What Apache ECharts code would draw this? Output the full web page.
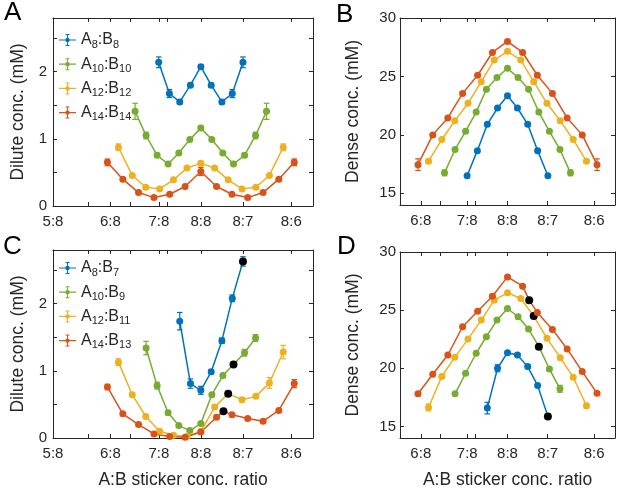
<!DOCTYPE html>
<html><head><meta charset="utf-8">
<script src="https://cdn.jsdelivr.net/npm/echarts@6/dist/echarts.min.js"></script>
<style>html,body{margin:0;padding:0;background:#fff}#c{width:617px;height:493px}</style>
</head><body><div id="c"></div>
<script>
// ---------- tick labels ----------
const xTickLabelsAC = ['5:8','6:8','7:8','8:8','8:7','8:6'];
const xTickLabelsBD = ['6:8','7:8','8:8','8:7','8:6'];
const xMinorTickRatios = [0.7, 0.8, 0.9];
const xLimitRatio = 0.7;
const yTicksDilute = [0, 0.5, 1, 1.5, 2, 2.5];
const yLabelsDilute = [0, 1, 2];
const yTicksDense = [15, 20, 25, 30];
const yLabelsDense = [15, 20, 25, 30];

// ---------- legend names ----------
const namesTop = ['A8:B8','A10:B10','A12:B12','A14:B14'];
const namesBottom = ['A8:B7','A10:B9','A12:B11','A14:B13'];

// ---------- x values: ln(A:B sticker conc. ratio) ----------
const xBlue   = [-0.134,-0.100,-0.067,-0.033,0,0.033,0.067,0.100,0.134];
const xGreen  = [-0.209,-0.174,-0.139,-0.104,-0.070,-0.035,0,0.035,0.070,0.104,0.139,0.174,0.209];
const xYellow = [-0.262,-0.218,-0.175,-0.131,-0.087,-0.044,0,0.044,0.087,0.131,0.175,0.218,0.262];
const xOrange = [-0.297,-0.248,-0.198,-0.149,-0.099,-0.050,0,0.050,0.099,0.149,0.198,0.248,0.297];
const xBlueC   = [-0.067,-0.033,0,0.033,0.067,0.100,0.134];
const xGreenC  = [-0.174,-0.139,-0.104,-0.070,-0.035,0,0.035,0.070,0.104,0.139,0.174];
const xYellowC = [-0.262,-0.218,-0.175,-0.131,-0.087,-0.044,0,0.044,0.087,0.131,0.175,0.218,0.262];
const xOrangeC = [-0.297,-0.248,-0.198,-0.149,-0.099,-0.050,0,0.050,0.072,0.099,0.149,0.198,0.248,0.297];

// ---------- Panel A: dilute conc. (mM) ----------
const dilA8  = [2.14,1.675,1.55,1.80,2.075,1.80,1.55,1.675,2.14];
const dilA10 = [1.41,1.05,0.755,0.625,0.79,0.99,1.16,0.99,0.79,0.625,0.755,1.05,1.41];
const dilA12 = [0.875,0.455,0.28,0.255,0.39,0.565,0.635,0.565,0.39,0.255,0.28,0.455,0.875];
const dilA14 = [0.65,0.40,0.20,0.125,0.175,0.29,0.515,0.29,0.175,0.125,0.20,0.40,0.65];
const errA8  = [0.08,0.06,0.03,0.03,0.03,0.03,0.03,0.06,0.08];
const errA10 = [0.12,0.05,0.03,0.02,0.02,0.02,0.03,0.02,0.02,0.02,0.03,0.05,0.12];
const errA12 = [0.05,0.02,0.02,0.02,0.02,0.02,0.03,0.02,0.02,0.02,0.02,0.02,0.05];
const errA14 = [0.05,0.02,0.02,0.02,0.02,0.02,0.06,0.02,0.02,0.02,0.02,0.02,0.05];

// ---------- Panel B: dense conc. (mM) ----------
const denB8  = [16.5,18.65,20.9,22.3,23.35,22.3,20.9,18.65,16.5];
const denB10 = [16.75,18.75,20.3,21.95,23.9,24.9,25.7,24.9,23.9,21.95,20.3,18.75,16.75];
const denB12 = [17.75,19.6,21.2,22.7,24.55,26.4,27.15,26.4,24.55,22.7,21.2,19.6,17.75];
const denB14 = [17.45,20.0,21.45,23.55,25.1,27.05,28.0,27.05,25.1,23.55,21.45,20.0,17.45];
const errB8  = [0.1,0.1,0.1,0.1,0.1,0.1,0.1,0.1,0.1];
const errB10 = [0.25,0.1,0.1,0.1,0.1,0.1,0.1,0.1,0.1,0.1,0.1,0.1,0.25];
const errB12 = [0.15,0.1,0.1,0.1,0.1,0.1,0.1,0.1,0.1,0.1,0.1,0.1,0.15];
const errB14 = [0.5,0.1,0.1,0.1,0.1,0.1,0.1,0.1,0.1,0.1,0.1,0.1,0.5];

// ---------- Panel C: dilute conc. (mM) ----------
const dilC8  = [1.74,0.81,0.71,0.985,1.45,2.08,2.63];
const dilC10 = [1.34,0.78,0.375,0.185,0.11,0.215,0.645,0.93,1.095,1.27,1.49];
const dilC12 = [1.13,0.645,0.32,0.10,0.04,0.024,0.10,0.46,0.66,0.57,0.62,0.82,1.28];
const dilC14 = [0.76,0.36,0.20,0.06,0.024,0.01,0.09,0.31,0.40,0.345,0.29,0.25,0.41,0.81];
const errC8  = [0.13,0.07,0.06,0.03,0.04,0.05,0.07];
const errC10 = [0.10,0.05,0.03,0.02,0.02,0.02,0.03,0.03,0.03,0.05,0.05];
const errC12 = [0.05,0.03,0.02,0.02,0.02,0.02,0.02,0.03,0.03,0.03,0.03,0.08,0.10];
const errC14 = [0.04,0.02,0.02,0.02,0.02,0.02,0.02,0.02,0.02,0.02,0.02,0.02,0.02,0.06];

// ---------- Panel D: dense conc. (mM) ----------
const denD8  = [16.57,20.0,21.34,21.14,20.14,18.51,15.86];
const denD10 = [17.8,19.57,21.29,22.71,24.14,25.14,24.43,23.37,21.86,19.94,18.23];
const denD12 = [16.63,19.29,20.94,22.51,24.14,25.86,26.49,26.0,24.49,22.57,20.91,19.23,16.77];
const denD14 = [17.8,19.49,21.14,23.57,24.91,26.2,27.86,27.06,25.86,24.8,23.34,21.66,19.71,17.86];
const errD8  = [0.5,0.3,0.1,0.1,0.15,0.1,0.2];
const errD10 = [0.1,0.1,0.1,0.1,0.1,0.1,0.1,0.1,0.1,0.15,0.3];
const errD12 = [0.3,0.1,0.1,0.1,0.1,0.1,0.1,0.1,0.1,0.1,0.1,0.1,0.2];
const errD14 = [0.15,0.1,0.1,0.1,0.1,0.1,0.1,0.1,0.1,0.1,0.1,0.1,0.1,0.1];

// index of the black-highlighted point in each bottom-row series
const highlightIdx = [6, 8, 8, 8];

// ---------- styling ----------
const COLORS = ['#0072BD', '#77AC30', '#EDB120', '#D95319'];
const AX = '#262626';
const FONT = '"Liberation Sans", Arial, sans-serif';

const ratioToX = s => { const p = s.split(':').map(Number); return Math.log(p[0] / p[1]); };
const xMax = Math.log(1 / xLimitRatio);
const xMinAC = ratioToX('5:8');
const xMinBD = Math.log(xLimitRatio);

const grids = [
  {left: 53, top: 18, width: 260, height: 188},
  {left: 400, top: 18, width: 215, height: 187},
  {left: 53, top: 250, width: 260, height: 188},
  {left: 400, top: 252, width: 215, height: 186}
];

function makeX(gi, labels, min, name) {
  const labVals = labels.map(ratioToX);
  const tickVals = labVals.concat(xMinorTickRatios.map(Math.log).filter(v => v > min + 1e-9));
  const base = {
    type: 'value', gridIndex: gi, min: min, max: xMax, splitLine: {show: false},
    axisLine: {show: true, onZero: false, lineStyle: {color: AX, width: 1}},
    axisTick: {show: true, inside: true, length: 4, customValues: tickVals, lineStyle: {color: AX, width: 1}}
  };
  const bottom = Object.assign({}, base, {
    position: 'bottom',
    axisLabel: {show: true, customValues: labVals, margin: 8, fontSize: 15, color: AX, fontFamily: FONT,
      formatter: v => labels[labVals.findIndex(t => Math.abs(t - v) < 1e-9)]}
  });
  if (name) {
    bottom.name = name; bottom.nameLocation = 'middle'; bottom.nameGap = 33;
    bottom.nameTextStyle = {fontSize: 17.5, color: AX, fontFamily: FONT};
  }
  const top = Object.assign({}, base, {position: 'top', axisLabel: {show: false}});
  return [bottom, top];
}

function makeY(gi, min, max, ticks, labels, name, gap, margin) {
  const base = {
    type: 'value', gridIndex: gi, min: min, max: max, splitLine: {show: false},
    axisLine: {show: true, onZero: false, lineStyle: {color: AX, width: 1}},
    axisTick: {show: true, inside: true, length: 4, customValues: ticks, lineStyle: {color: AX, width: 1}}
  };
  const left = Object.assign({}, base, {
    position: 'left',
    axisLabel: {show: true, customValues: labels, margin: margin, fontSize: 15, color: AX, fontFamily: FONT,
      formatter: v => String(v)},
    name: name, nameLocation: 'middle', nameGap: gap,
    nameTextStyle: {fontSize: 17.5, color: AX, fontFamily: FONT}
  });
  const right = Object.assign({}, base, {position: 'right', axisLabel: {show: false}});
  return [left, right];
}

const xAxis = [].concat(
  makeX(0, xTickLabelsAC, xMinAC, ''),
  makeX(1, xTickLabelsBD, xMinBD, ''),
  makeX(2, xTickLabelsAC, xMinAC, 'A:B sticker conc. ratio'),
  makeX(3, xTickLabelsBD, xMinBD, 'A:B sticker conc. ratio')
);
const yAxis = [].concat(
  makeY(0, 0, 2.8, yTicksDilute, yLabelsDilute, 'Dilute conc. (mM)', 26, 6),
  makeY(1, 14, 30, yTicksDense, yLabelsDense, 'Dense conc. (mM)', 38, 4),
  makeY(2, 0, 2.8, yTicksDilute, yLabelsDilute, 'Dilute conc. (mM)', 26, 6),
  makeY(3, 14, 30, yTicksDense, yLabelsDense, 'Dense conc. (mM)', 38, 4)
);

const series = [];
function addSeries(gi, name, xs, ys, es, color, hi) {
  series.push({
    type: 'custom', name: 'err ' + name + ' ' + gi, xAxisIndex: 2 * gi, yAxisIndex: 2 * gi,
    silent: true, z: 2,
    data: xs.map((x, i) => [x, ys[i] - es[i], ys[i] + es[i]]),
    encode: {x: 0, y: [1, 2]},
    renderItem: function (params, api) {
      const lo = api.coord([api.value(0), api.value(1)]);
      const hiP = api.coord([api.value(0), api.value(2)]);
      const w = 2.8, st = {stroke: color, lineWidth: 1.2};
      return {type: 'group', children: [
        {type: 'line', shape: {x1: lo[0], y1: lo[1], x2: hiP[0], y2: hiP[1]}, style: st},
        {type: 'line', shape: {x1: lo[0] - w, y1: lo[1], x2: lo[0] + w, y2: lo[1]}, style: st},
        {type: 'line', shape: {x1: hiP[0] - w, y1: hiP[1], x2: hiP[0] + w, y2: hiP[1]}, style: st}
      ]};
    }
  });
  series.push({
    type: 'line', name: name, xAxisIndex: 2 * gi, yAxisIndex: 2 * gi, z: 3,
    symbol: 'circle', symbolSize: 7, showSymbol: true,
    color: color,
    itemStyle: {color: color, borderWidth: 0},
    lineStyle: {color: color, width: 1.5},
    data: xs.map((x, i) => i === hi
      ? {value: [x, ys[i]], symbolSize: 8, itemStyle: {color: '#000'}}
      : [x, ys[i]])
  });
}

const topX = [xBlue, xGreen, xYellow, xOrange];
const botX = [xBlueC, xGreenC, xYellowC, xOrangeC];
[dilA8, dilA10, dilA12, dilA14].forEach((ys, k) =>
  addSeries(0, namesTop[k], topX[k], ys, [errA8, errA10, errA12, errA14][k], COLORS[k], -1));
[denB8, denB10, denB12, denB14].forEach((ys, k) =>
  addSeries(1, namesTop[k], topX[k], ys, [errB8, errB10, errB12, errB14][k], COLORS[k], -1));
[dilC8, dilC10, dilC12, dilC14].forEach((ys, k) =>
  addSeries(2, namesBottom[k], botX[k], ys, [errC8, errC10, errC12, errC14][k], COLORS[k], highlightIdx[k]));
[denD8, denD10, denD12, denD14].forEach((ys, k) =>
  addSeries(3, namesBottom[k], botX[k], ys, [errD8, errD10, errD12, errD14][k], COLORS[k], highlightIdx[k]));

const ICON = 'path://M0 5.4H17V6.6H0Z M8 0H9V12H8Z M6.5 0H10.5V1H6.5Z M6.5 11H10.5V12H6.5Z M10.7 6A2.2 2.2 0 1 1 6.3 6A2.2 2.2 0 1 1 10.7 6Z';
const legendFmt = name => name.split(/(\d+)/).filter(Boolean)
  .map(p => /^\d+$/.test(p) ? '{s|' + p + '}' : '{a|' + p + '}').join('');
function makeLegend(names, top) {
  return {
    orient: 'vertical', left: 59, top: top, padding: 0, itemGap: 4.2,
    itemWidth: 17, itemHeight: 12, icon: ICON, data: names, selectedMode: false,
    itemStyle: {borderWidth: 0},
    formatter: legendFmt,
    textStyle: {color: AX, fontFamily: FONT, fontSize: 16,
      rich: {
        a: {fontSize: 16, lineHeight: 16, verticalAlign: 'middle', color: AX, fontFamily: FONT},
        s: {fontSize: 11, lineHeight: 11, padding: [9, 0, 0, 0], color: AX, fontFamily: FONT}
      }}
  };
}

const letterStyle = t => ({text: t, font: '26px "Liberation Sans", Arial, sans-serif', fill: '#000'});

const chart = echarts.init(document.getElementById('c'), null, {renderer: 'canvas'});
chart.setOption({
  animation: false,
  backgroundColor: '#fff',
  grid: grids,
  xAxis: xAxis,
  yAxis: yAxis,
  legend: [makeLegend(namesTop, 30), makeLegend(namesBottom, 258)],
  graphic: [
    {type: 'text', left: 4, top: 0, style: letterStyle('A')},
    {type: 'text', left: 336, top: 2, style: letterStyle('B')},
    {type: 'text', left: 3, top: 234, style: letterStyle('C')},
    {type: 'text', left: 337, top: 234, style: letterStyle('D')}
  ],
  series: series
});
</script>
</body></html>
